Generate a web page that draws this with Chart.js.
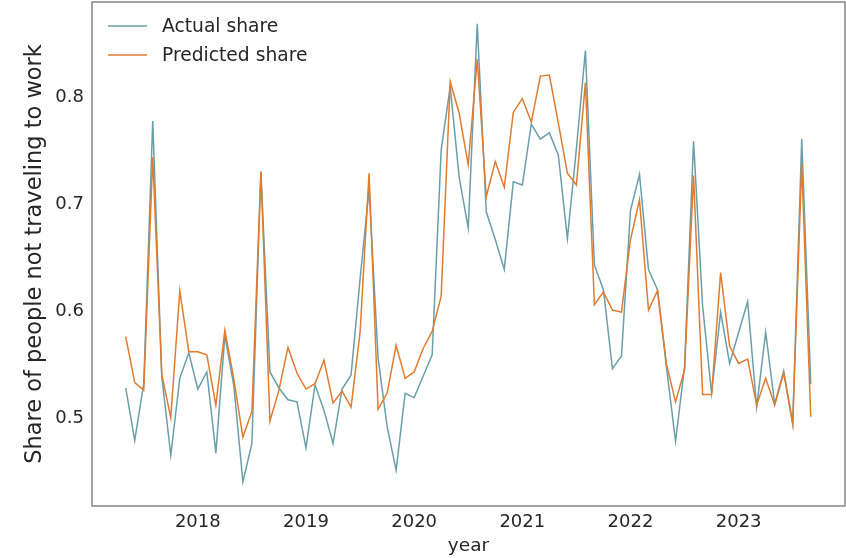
<!DOCTYPE html>
<html>
<head>
<meta charset="utf-8">
<script src="https://cdn.jsdelivr.net/npm/chart.js@4.4.1/dist/chart.umd.min.js"></script>
<style>
  html, body { margin: 0; padding: 0; background: #ffffff; }
  #wrap { width: 846px; height: 558px; }
</style>
</head>
<body>
<div id="wrap"><canvas id="c" width="846" height="558"></canvas></div>
<script>
// Monthly observations, May 2017 – Sep 2023
const months = [
  '2017-05','2017-06','2017-07','2017-08','2017-09','2017-10','2017-11','2017-12',
  '2018-01','2018-02','2018-03','2018-04','2018-05','2018-06','2018-07','2018-08','2018-09','2018-10','2018-11','2018-12',
  '2019-01','2019-02','2019-03','2019-04','2019-05','2019-06','2019-07','2019-08','2019-09','2019-10','2019-11','2019-12',
  '2020-01','2020-02','2020-03','2020-04','2020-05','2020-06','2020-07','2020-08','2020-09','2020-10','2020-11','2020-12',
  '2021-01','2021-02','2021-03','2021-04','2021-05','2021-06','2021-07','2021-08','2021-09','2021-10','2021-11','2021-12',
  '2022-01','2022-02','2022-03','2022-04','2022-05','2022-06','2022-07','2022-08','2022-09','2022-10','2022-11','2022-12',
  '2023-01','2023-02','2023-03','2023-04','2023-05','2023-06','2023-07','2023-08','2023-09'
];

const actualShare = [
  0.528, 0.479, 0.532, 0.778, 0.539, 0.465, 0.537, 0.561,
  0.527, 0.543, 0.467, 0.577, 0.530, 0.440, 0.476, 0.730, 0.543, 0.528, 0.517, 0.515,
  0.472, 0.531, 0.507, 0.476, 0.527, 0.540, 0.630, 0.714, 0.556, 0.492, 0.451, 0.523,
  0.519, 0.539, 0.559, 0.751, 0.810, 0.725, 0.678, 0.869, 0.693, 0.667, 0.639, 0.721,
  0.718, 0.775, 0.761, 0.767, 0.746, 0.668, 0.752, 0.844, 0.643, 0.620, 0.546, 0.558,
  0.694, 0.728, 0.639, 0.620, 0.547, 0.478, 0.548, 0.759, 0.605, 0.523, 0.599, 0.551,
  0.580, 0.609, 0.510, 0.580, 0.513, 0.544, 0.495, 0.761, 0.532
];

const predictedShare = [
  0.576, 0.533, 0.526, 0.744, 0.541, 0.500, 0.619, 0.562,
  0.562, 0.559, 0.512, 0.582, 0.536, 0.482, 0.506, 0.731, 0.497, 0.526, 0.566, 0.542,
  0.527, 0.532, 0.554, 0.514, 0.525, 0.510, 0.580, 0.729, 0.508, 0.523, 0.568, 0.537,
  0.543, 0.565, 0.581, 0.614, 0.815, 0.785, 0.737, 0.836, 0.707, 0.740, 0.716, 0.786,
  0.799, 0.777, 0.820, 0.821, 0.776, 0.729, 0.718, 0.814, 0.606, 0.618, 0.601, 0.599,
  0.667, 0.704, 0.601, 0.619, 0.550, 0.515, 0.545, 0.727, 0.522, 0.522, 0.636, 0.567,
  0.551, 0.555, 0.512, 0.537, 0.512, 0.542, 0.494, 0.738, 0.501
];

const yearTicks = ['2018', '2019', '2020', '2021', '2022', '2023'];
const shareTicks = [0.5, 0.6, 0.7, 0.8];

const seriesNames = ['Actual share', 'Predicted share'];
const seriesColors = ['#6a9fa9', '#e07b30'];

const FONT = 'DejaVu Sans';
const TEXT = '#262626';

// Legend drawn inside the plot frame, top-left
const insideLegend = {
  id: 'insideLegend',
  afterDraw(chart) {
    const ctx = chart.ctx;
    ctx.save();
    ctx.font = '18.7px "' + FONT + '"';
    ctx.textBaseline = 'middle';
    ctx.textAlign = 'left';
    chart.data.datasets.forEach((ds, k) => {
      const y = 26 + k * 29;
      ctx.strokeStyle = ds.borderColor;
      ctx.lineWidth = 1.5;
      ctx.beginPath();
      ctx.moveTo(108, y);
      ctx.lineTo(147, y);
      ctx.stroke();
      ctx.fillStyle = TEXT;
      ctx.fillText(ds.label, 162, y + 1);
    });
    ctx.restore();
  }
};

// Box around the plotting area
const frame = {
  id: 'frame',
  afterDatasetsDraw(chart) {
    const a = chart.chartArea;
    const ctx = chart.ctx;
    ctx.save();
    ctx.strokeStyle = '#6e6e6e';
    ctx.lineWidth = 1.25;
    ctx.strokeRect(a.left, a.top, a.right - a.left, a.bottom - a.top);
    ctx.restore();
  }
};

// the axes own fixed sizes; no extra room for edge labels
function noEdgePadding(scale) {
  scale.paddingTop = 0;
  scale.paddingBottom = 0;
  scale.paddingLeft = 0;
  scale.paddingRight = 0;
}

new Chart(document.getElementById('c'), {
  type: 'line',
  data: {
    datasets: [
      {
        label: seriesNames[0],
        data: actualShare.map((v, i) => ({ x: i, y: v })),
        borderColor: seriesColors[0],
        borderWidth: 1.5,
        pointRadius: 0,
        tension: 0,
        fill: false,
        order: 1
      },
      {
        label: seriesNames[1],
        data: predictedShare.map((v, i) => ({ x: i, y: v })),
        borderColor: seriesColors[1],
        borderWidth: 1.5,
        pointRadius: 0,
        tension: 0,
        fill: false,
        order: 0
      }
    ]
  },
  options: {
    responsive: false,
    animation: false,
    devicePixelRatio: 1,
    layout: { padding: { top: 2, right: 1, left: 0, bottom: 0 } },
    plugins: {
      legend: { display: false },
      tooltip: { enabled: false }
    },
    scales: {
      x: {
        type: 'linear',
        min: -3.74,
        max: 79.8,
        grid: { display: false, drawTicks: false },
        border: { display: false },
        afterBuildTicks: (scale) => {
          scale.ticks = yearTicks.map(y => ({ value: months.indexOf(y + '-01') }));
        },
        afterFit: (scale) => { scale.height = 52; noEdgePadding(scale); },
        ticks: {
          autoSkip: false,
          maxRotation: 0,
          padding: 6,
          color: TEXT,
          font: { family: FONT, size: 18 },
          callback: (v) => months[v] ? months[v].slice(0, 4) : ''
        },
        title: {
          display: true,
          text: 'year',
          color: TEXT,
          font: { family: FONT, size: 18.5 },
          padding: { top: 0, bottom: 1 }
        }
      },
      y: {
        min: 0.4175,
        max: 0.8894,
        grid: { display: false, drawTicks: false },
        border: { display: false },
        afterBuildTicks: (scale) => {
          scale.ticks = shareTicks.map(v => ({ value: v }));
        },
        afterFit: (scale) => { scale.width = 92; noEdgePadding(scale); },
        ticks: {
          padding: 8,
          color: TEXT,
          font: { family: FONT, size: 18 },
          callback: (v) => v.toFixed(1)
        },
        title: {
          display: true,
          text: 'Share of people not traveling to work',
          color: TEXT,
          font: { family: FONT, size: 22.5 },
          padding: { top: 22, bottom: 0 }
        }
      }
    }
  },
  plugins: [insideLegend, frame]
});
</script>
</body>
</html>
